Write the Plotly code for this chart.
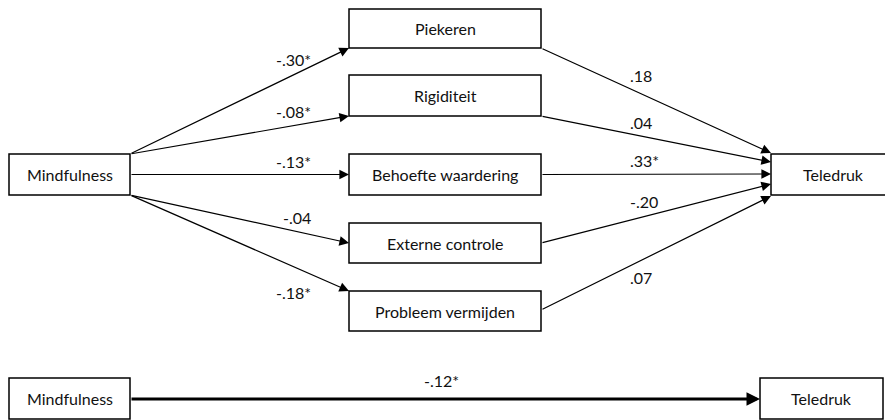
import plotly.graph_objects as go

# ---- data ----
predictor = "Mindfulness"
outcome = "Teledruk"
mediators = ["Piekeren", "Rigiditeit", "Behoefte waardering", "Externe controle", "Probleem vermijden"]
a_paths = ["-.30*", "-.08*", "-.13*", "-.04", "-.18*"]
b_paths = [".18", ".04", ".33*", "-.20", ".07"]
total_effect = "-.12*"

# ---- layout constants (page-pixel coordinates) ----
W, H = 893, 420
OFF = 8  # default body margin of the html page
FONT = dict(family="Lato, 'Open Sans', sans-serif", size=16, color="#111")
pred_box = (9, 154, 130, 195)
out_box = (771, 154, 895, 195)
med_x0, med_x1 = 349, 541
med_tops = [9, 75, 154, 223, 291]
med_bots = [48, 116, 195, 263, 331]
a_start_y = [154, 154, 174.5, 195, 195]
a_end_y = [48, 116, 174.5, 243, 291]
b_start_y = [48, 116, 174.5, 243, 310]
b_end_y = [153, 162, 174, 184, 196]
a_lab = [(313, 59), (313, 111), (313, 161), (313, 217), (313, 292)]
b_lab = [(628, 75), (628, 122), (628, 160), (628, 201), (628, 277)]
bot_pred = (9, 378, 130, 419)
bot_out = (760, 378, 883, 419)
bot_y = 399
bot_lab = (441, 380)

fig = go.Figure()
shapes = []
ann = []

def box(b, label):
    x0, y0, x1, y1 = b
    shapes.append(dict(type="rect", xref="x", yref="y", x0=x0, y0=y0, x1=x1, y1=y1,
                       line=dict(color="black", width=1.5), fillcolor="white", layer="above"))
    ann.append(dict(x=(x0 + x1) / 2, y=(y0 + y1) / 2, xref="x", yref="y", text=label,
                    showarrow=False, font=FONT))

def arrow(x0, y0, x1, y1, w=1.2, size=1.6):
    ann.append(dict(x=x1, y=y1, ax=x0, ay=y0, xref="x", yref="y", axref="x", ayref="y",
                    text="", showarrow=True, arrowhead=2, arrowsize=size, arrowwidth=w,
                    arrowcolor="black", standoff=0, startstandoff=0))

box(pred_box, predictor)
box(out_box, outcome)
for i, name in enumerate(mediators):
    box((med_x0, med_tops[i], med_x1, med_bots[i]), name)
    arrow(pred_box[2], a_start_y[i], med_x0, a_end_y[i])
    arrow(med_x1, b_start_y[i], out_box[0], b_end_y[i])
    ann.append(dict(x=a_lab[i][0], y=a_lab[i][1], xref="x", yref="y", text=a_paths[i],
                    showarrow=False, xanchor="right", font=FONT))
    ann.append(dict(x=b_lab[i][0], y=b_lab[i][1], xref="x", yref="y", text=b_paths[i],
                    showarrow=False, xanchor="left", font=FONT))

box(bot_pred, predictor)
box(bot_out, outcome)
arrow(bot_pred[2], bot_y, bot_out[0], bot_y, w=3, size=0.9)
ann.append(dict(x=bot_lab[0], y=bot_lab[1], xref="x", yref="y", text=total_effect,
                showarrow=False, font=FONT))

fig.update_layout(
    width=W - OFF, height=H - OFF, margin=dict(l=0, r=0, t=0, b=0),
    paper_bgcolor="white", plot_bgcolor="white",
    xaxis=dict(range=[OFF, W], visible=False, fixedrange=True),
    yaxis=dict(range=[H, OFF], visible=False, fixedrange=True),
    shapes=shapes, annotations=ann, showlegend=False,
)
fig.write_html("out.html")
